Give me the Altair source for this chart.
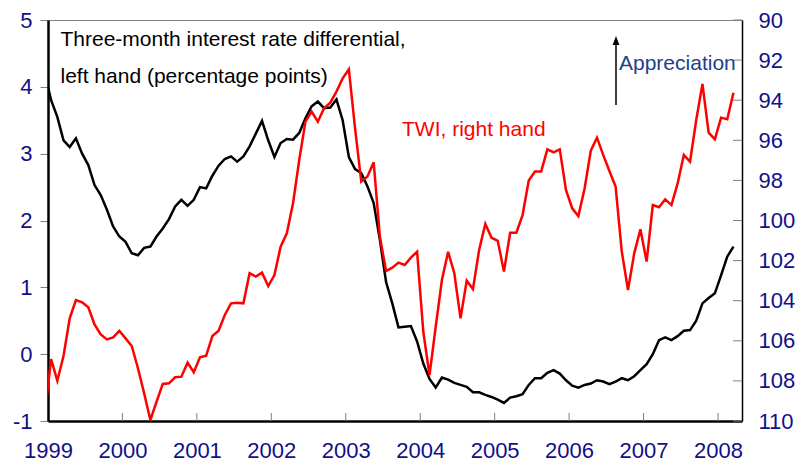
import altair as alt
import pandas as pd

# month index: -1 = Dec 1998, 0 = Jan 1999 ... 110 = Mar 2008
months = list(range(-1, 111))

# Three-month interest rate differential (percentage points), left axis
rate_diff = [
    4.20,
    3.80, 3.55, 3.20, 3.10, 3.23, 3.00, 2.83, 2.53, 2.38, 2.16, 1.91, 1.76,   # 1999
    1.68, 1.51, 1.48, 1.59, 1.61, 1.76, 1.88, 2.02, 2.21, 2.31, 2.22, 2.31,   # 2000
    2.50, 2.48, 2.67, 2.82, 2.92, 2.96, 2.88, 2.96, 3.11, 3.30, 3.49, 3.20,   # 2001
    2.95, 3.16, 3.22, 3.21, 3.31, 3.53, 3.71, 3.78, 3.68, 3.69, 3.81, 3.50,   # 2002
    2.95, 2.77, 2.71, 2.51, 2.26, 1.71, 1.08, 0.76, 0.40, 0.41, 0.42, 0.19,   # 2003
    -0.14, -0.37, -0.50, -0.35, -0.38, -0.43, -0.46, -0.49, -0.57, -0.57, -0.61, -0.64,  # 2004
    -0.68, -0.73, -0.65, -0.63, -0.60, -0.46, -0.36, -0.36, -0.28, -0.24, -0.29, -0.39,  # 2005
    -0.47, -0.50, -0.46, -0.44, -0.39, -0.41, -0.45, -0.41, -0.36, -0.39, -0.33, -0.24,  # 2006
    -0.15, 0.00, 0.21, 0.25, 0.21, 0.27, 0.35, 0.36, 0.50, 0.76, 0.84, 0.91,  # 2007
    1.18, 1.46, 1.61,                                                          # 2008
]

# Trade-weighted index, right axis (inverted)
twi = [
    109.6,
    106.91, 107.99, 106.76, 104.88, 103.97, 104.08, 104.33, 105.18, 105.68, 105.93, 105.83, 105.50,  # 1999
    105.88, 106.26, 107.37, 108.62, 109.95, 109.04, 108.15, 108.12, 107.82, 107.79, 107.09, 107.57,  # 2000
    106.82, 106.74, 105.76, 105.50, 104.71, 104.13, 104.10, 104.13, 102.63, 102.80, 102.60, 103.27,  # 2001
    102.72, 101.31, 100.64, 99.14, 96.98, 95.07, 94.57, 95.07, 94.40, 94.12, 93.57, 92.91,            # 2002
    92.46, 95.40, 98.06, 97.81, 97.10, 100.80, 102.52, 102.35, 102.10, 102.22, 101.85, 101.56,       # 2003
    105.55, 107.71, 105.30, 102.97, 101.56, 102.63, 104.88, 103.00, 103.42, 101.47, 100.17, 100.86,  # 2004
    101.01, 102.55, 100.61, 100.61, 99.73, 98.01, 97.56, 97.56, 96.45, 96.60, 96.45, 98.48,          # 2005
    99.39, 99.78, 98.40, 96.52, 95.87, 96.73, 97.53, 98.31, 101.56, 103.47, 101.64, 100.44,          # 2006
    102.05, 99.23, 99.34, 98.94, 99.23, 98.15, 96.73, 97.07, 94.99, 93.19, 95.62, 95.95,             # 2007
    94.87, 94.95, 93.63,                                                                              # 2008
]

year_ticks = [1999, 2000, 2001, 2002, 2003, 2004, 2005, 2006, 2007, 2008]
left_ticks = [-1, 0, 1, 2, 3, 4, 5]
right_ticks = [90, 92, 94, 96, 98, 100, 102, 104, 106, 108, 110]

label_diff = ["Three-month interest rate differential,", "left hand (percentage points)"]
label_twi = "TWI, right hand"
label_arrow = "Appreciation"

assert len(months) == len(rate_diff) == len(twi)

df = pd.DataFrame({
    "year": [1999 + (m + 0.5) / 12 for m in months],
    "diff": rate_diff,
    "twi": twi,
})

FONT = "Liberation Sans"
NAVY = "#10108a"
XDOM = [1999, 2008.323]


def xs():
    return alt.Scale(domain=XDOM, nice=False, zero=False)


def ls():
    return alt.Scale(domain=[-1, 5], nice=False, zero=False)


def rs():
    return alt.Scale(domain=[90, 110], reverse=True, nice=False, zero=False)


def x_axis():
    return alt.Axis(
        orient="bottom", values=year_ticks, labelExpr="'' + datum.value", tickSize=0,
        labelPadding=19, labelFontSize=22, labelColor=NAVY, labelFont=FONT,
        domainColor="black", domainWidth=2.5, grid=False, title=None,
        labelFlush=False, labelOverlap=False)


def left_axis():
    return alt.Axis(
        orient="left", values=left_ticks, labelExpr="'' + datum.value", tickSize=8,
        tickColor="#808080", tickWidth=1, labelPadding=8, labelFontSize=22,
        labelColor=NAVY, labelFont=FONT, domainColor="black", domainWidth=2.5,
        grid=False, title=None, labelFlush=False, labelOverlap=False)


def right_axis():
    return alt.Axis(
        orient="right", values=right_ticks, labelExpr="'' + datum.value", tickSize=0,
        labelPadding=16, labelFontSize=22, labelColor=NAVY, labelFont=FONT,
        domainColor="black", domainWidth=1.5, grid=False, title=None,
        labelFlush=False, labelOverlap=False)


black = alt.Chart(df).mark_line(color="black", strokeWidth=2.5, clip=True).encode(
    x=alt.X("year:Q", scale=xs(), axis=x_axis()),
    y=alt.Y("diff:Q", scale=ls(), axis=left_axis()),
)

red_line = alt.Chart(df).mark_line(color="#ff0000", strokeWidth=2.5, clip=True).encode(
    x=alt.X("year:Q", scale=xs(), axis=x_axis()),
    y=alt.Y("twi:Q", scale=rs(), axis=right_axis()),
)

rticks = alt.Chart(pd.DataFrame({"twi": right_ticks})).mark_rule(
    color="#808080", strokeWidth=1).encode(
    y=alt.Y("twi:Q", scale=rs(), axis=right_axis()),
    x=alt.value(685), x2=alt.value(694),
)

red_layer = alt.layer(red_line, rticks)

xticks = alt.Chart(pd.DataFrame({"year": year_ticks[1:]})).mark_rule(
    color="#808080", strokeWidth=1).encode(
    x=alt.X("year:Q", scale=xs(), axis=x_axis()),
    y=alt.value(393), y2=alt.value(401),
)


def txt(s, x, y, color, size=21):
    return alt.Chart(pd.DataFrame({"t": [s]})).mark_text(
        align="left", baseline="alphabetic", font=FONT, fontSize=size, color=color
    ).encode(text="t:N", x=alt.value(x), y=alt.value(y))


t1 = txt(label_diff[0], 12.5, 26, "black")
t2 = txt(label_diff[1], 12.5, 63, "black")
t3 = txt(label_twi, 354, 116, "#ff0000")
t4 = txt(label_arrow, 571, 50, "#233e8b")

arrow_line = alt.Chart(pd.DataFrame({"a": [0]})).mark_rule(
    color="black", strokeWidth=1.5).encode(
    x=alt.value(568), y=alt.value(24), y2=alt.value(85))
arrow_head = alt.Chart(pd.DataFrame({"a": [0]})).mark_point(
    shape="M -0.75 1 L 0 -1 L 0.75 1 Z", size=81, filled=True, color="black",
    opacity=1).encode(x=alt.value(568), y=alt.value(20.5))

chart = alt.layer(
    black, red_layer, xticks, t1, t2, t3, t4, arrow_line, arrow_head
).resolve_scale(y="independent").properties(
    width=694, height=401,
    autosize=alt.AutoSizeParams(type="none"),
    padding={"left": 40, "top": 12, "right": 53, "bottom": 45},
).configure_view(stroke="#808080", strokeWidth=1)

chart.save("out.html", embed_options={"renderer": "svg", "actions": False})
